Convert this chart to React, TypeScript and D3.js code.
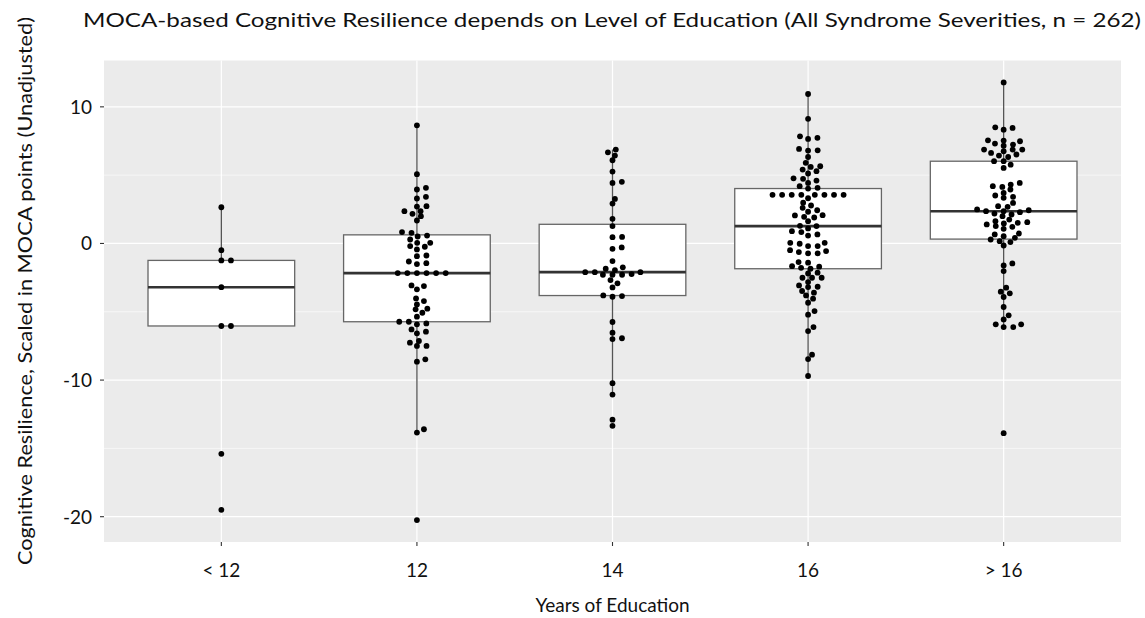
import React from 'react';
import * as d3 from 'd3';

const W = 1145;
const H = 618;

const title = 'MOCA-based Cognitive Resilience depends on Level of Education (All Syndrome Severities, n = 262)';
const xTitle = 'Years of Education';
const yTitle = 'Cognitive Resilience, Scaled in MOCA points (Unadjusted)';

const categories = ['< 12', '12', '14', '16', '> 16'];
const yTicks = [10, 0, -10, -20];
const yMinorTicks = [5, -5, -15];

const eduLt12 = [2.65, -0.49, -1.24, -1.24, -3.2, -6.04, -6.04, -15.4, -19.5];

const edu12 = [
  8.65, 5.07, 4.07, 3.95, 3.41, 3.29, 2.73, 2.7, 2.36, 2.36, 2.17, 2.0, 1.68, 0.83, 0.78, 0.58, 0.51, 0.29,
  0.05, 0.05, -0.19, -0.24, -0.44, -0.88, -0.93, -1.32, -1.44, -1.51,
  -2.17, -2.17, -2.17, -2.17, -2.17, -2.17,
  -3.07, -3.12, -3.36, -4.02, -4.22, -4.46, -4.77, -4.82, -5.07, -5.36, -5.73, -5.73, -5.85, -5.92,
  -6.29, -6.46, -6.58, -7.14, -7.26, -7.5, -7.5, -8.48, -8.65, -13.6, -13.84, -20.25,
];

const edu14 = [
  6.87, 6.67, 6.43, 6.09, 5.26, 4.51, 4.43, 3.26, 2.92, 1.8, 1.27, 0.48, 0.46, -0.29, -0.39, -1.29,
  -1.75, -1.85, -1.95, -2.1, -2.1, -2.1, -2.24, -2.29, -2.29, -2.29, -2.68, -2.92, -3.22, -3.8, -3.85, -3.9,
  -5.75, -6.53, -6.94, -7.0, -10.23, -11.06, -12.9, -13.35,
];

const edu16 = [
  10.94, 9.12, 7.84, 7.73, 7.65, 6.92, 6.82, 6.8, 6.33, 5.9, 5.65, 5.6, 5.41, 5.29, 5.12, 4.77, 4.73, 4.6,
  4.43, 4.19, 4.07, 4.02,
  3.56, 3.56, 3.56, 3.56, 3.56, 3.56, 3.56, 3.56,
  3.31, 2.98, 2.78, 2.61, 2.43, 2.32, 2.07, 2.05, 1.95, 1.9, 1.63, 1.29, 1.27, 1.1, 0.9, 0.83, 0.66, 0.58,
  0.05, 0.05, -0.02, -0.19, -0.19, -0.49, -0.56, -0.63, -0.73, -0.73, -1.36, -1.41, -1.66, -1.7, -1.78,
  -1.85, -2.14, -2.19, -2.51, -2.51, -2.51, -2.83, -3.07, -3.17, -3.19, -3.48, -3.6, -3.8, -4.04, -4.34,
  -4.95, -5.21, -6.12, -6.41, -8.14, -8.46, -9.7,
];

const eduGt16 = [
  11.79, 8.5, 8.46, 8.33, 7.55, 7.53, 7.48, 7.31, 7.24, 7.16, 6.87, 6.87, 6.87, 6.75, 6.63, 6.51, 6.43, 6.33,
  6.02, 6.02, 5.77, 5.53, 4.43, 4.31, 4.19, 4.14, 3.95, 3.7, 3.51, 3.41, 3.34, 2.97, 2.73, 2.68, 2.49, 2.43,
  2.36, 2.36, 2.29, 2.19, 2.12, 2.0, 1.75, 1.63, 1.56, 1.51, 1.46, 1.39, 1.27, 1.22, 1.07, 0.73, 0.66, 0.53,
  0.41, 0.29, 0.17, 0.1, -0.15, -1.46, -1.61, -2.02, -3.24, -3.53, -3.65, -3.92, -4.65, -5.26, -5.56,
  -5.92, -5.92, -6.12, -6.12, -13.89,
];

const groups = [eduLt12, edu12, edu14, edu16, eduGt16];

const FONT = 'Lato, "Open Sans", sans-serif';

function boxStats(vals: number[]) {
  const s = [...vals].sort((a, b) => a - b);
  const q1 = d3.quantile(s, 0.25) as number;
  const med = d3.quantile(s, 0.5) as number;
  const q3 = d3.quantile(s, 0.75) as number;
  const iqr = q3 - q1;
  const lo = d3.min(s.filter((v) => v >= q1 - 1.5 * iqr)) as number;
  const hi = d3.max(s.filter((v) => v <= q3 + 1.5 * iqr)) as number;
  return { q1, med, q3, lo, hi };
}

// beeswarm (swarm) layout in pixel space, ascending priority, anisotropic spacing
function swarm(ys: number[], d: number, k: number) {
  const order = ys.map((_, i) => i).sort((a, b) => ys[b] - ys[a]);
  const placed: { x: number; y: number }[] = [];
  const xs = new Array(ys.length).fill(0);
  for (const i of order) {
    const y = ys[i];
    const near = placed.filter((p) => Math.abs(p.y - y) * k < d);
    const cands = [0];
    for (const p of near) {
      const vy = (p.y - y) * k;
      const dx = Math.sqrt(d * d - vy * vy);
      cands.push(p.x + dx, p.x - dx);
    }
    cands.sort((a, b) => {
      const da = Math.abs(a) - Math.abs(b);
      if (Math.abs(da) > 1e-6) return da;
      return b - a;
    });
    let chosen = 0;
    for (const c of cands) {
      const ok = near.every((p) => (p.x - c) ** 2 + ((p.y - y) * k) ** 2 >= d * d - 1e-3);
      if (ok) {
        chosen = c;
        break;
      }
    }
    xs[i] = chosen;
    placed.push({ x: chosen, y });
  }
  return xs;
}

export default function App() {
  const left = 104;
  const right = 1121;
  const top = 60.5;
  const bottom = 542;

  const all = groups.flat();
  const mn = d3.min(all) as number;
  const mx = d3.max(all) as number;
  const pad = (mx - mn) * 0.05;
  const y = d3.scaleLinear().domain([mn - pad, mx + pad]).range([bottom, top]);
  const x = d3.scalePoint<string>().domain(categories).range([left, right]).padding(0.6);
  const step = x.step();
  const boxW = step * 0.75;

  return (
    <svg width={W} height={H} style={{ display: 'block', position: 'absolute', left: 0, top: 0 }}>
      <rect x={0} y={0} width={W} height={H} fill="#ffffff" />
      <rect x={left} y={top} width={right - left} height={bottom - top} fill="#EBEBEB" />
      {yMinorTicks.map((t) => (
        <line key={'mn' + t} x1={left} x2={right} y1={y(t)} y2={y(t)} stroke="#fff" strokeWidth={0.6} />
      ))}
      {yTicks.map((t) => (
        <line key={'mj' + t} x1={left} x2={right} y1={y(t)} y2={y(t)} stroke="#fff" strokeWidth={1.2} />
      ))}
      {categories.map((c) => (
        <line key={'vx' + c} x1={x(c)} x2={x(c)} y1={top} y2={bottom} stroke="#fff" strokeWidth={1.2} />
      ))}

      {groups.map((vals, gi) => {
        const cx = x(categories[gi]) as number;
        const st = boxStats(vals);
        return (
          <g key={'box' + gi}>
            <line x1={cx} x2={cx} y1={y(st.q3)} y2={y(st.hi)} stroke="#555" strokeWidth={1.3} />
            <line x1={cx} x2={cx} y1={y(st.q1)} y2={y(st.lo)} stroke="#555" strokeWidth={1.3} />
            <rect
              x={cx - boxW / 2}
              y={y(st.q3)}
              width={boxW}
              height={y(st.q1) - y(st.q3)}
              fill="#fff"
              stroke="#666"
              strokeWidth={1.3}
            />
            <line x1={cx - boxW / 2} x2={cx + boxW / 2} y1={y(st.med)} y2={y(st.med)} stroke="#333" strokeWidth={2.6} />
          </g>
        );
      })}

      {groups.map((vals, gi) => {
        const cx = x(categories[gi]) as number;
        const ys = vals.map((v) => y(v));
        const offs = swarm(ys, 9.6, 2.0);
        return (
          <g key={'pts' + gi}>
            {vals.map((v, i) => (
              <circle key={i} cx={cx + offs[i]} cy={ys[i]} r={2.9} fill="#000" />
            ))}
          </g>
        );
      })}

      {yTicks.map((t) => (
        <g key={'yt' + t}>
          <line x1={left - 4} x2={left} y1={y(t)} y2={y(t)} stroke="#333" strokeWidth={1.1} />
          <text
            x={left - 12}
            y={y(t)}
            dy="0.36em"
            textAnchor="end"
            fontFamily={FONT}
            fontSize={19}
            fill="#111"
          >
            {t}
          </text>
        </g>
      ))}
      {categories.map((c) => (
        <g key={'xt' + c}>
          <line x1={x(c)} x2={x(c)} y1={bottom} y2={bottom + 4} stroke="#333" strokeWidth={1.1} />
          <text
            x={x(c)}
            y={bottom + 35}
            textAnchor="middle"
            fontFamily={FONT}
            fontSize={19}
            fill="#111"
          >
            {c}
          </text>
        </g>
      ))}

      <text
        x={(left + right) / 2}
        y={612}
        textAnchor="middle"
        fontFamily={FONT}
        fontSize={19}
        fill="#111"
      >
        {xTitle}
      </text>

      <text
        transform={`translate(32, 291) rotate(-90)`}
        textAnchor="middle"
        fontFamily={FONT}
        fontSize={19}
        fill="#111"
        textLength={548}
        lengthAdjust="spacingAndGlyphs"
      >
        {yTitle}
      </text>

      <text
        x={612}
        y={27}
        textAnchor="middle"
        fontFamily={FONT}
        fontSize={20}
        fill="#111"
        textLength={1058}
        lengthAdjust="spacingAndGlyphs"
      >
        {title}
      </text>
    </svg>
  );
}
